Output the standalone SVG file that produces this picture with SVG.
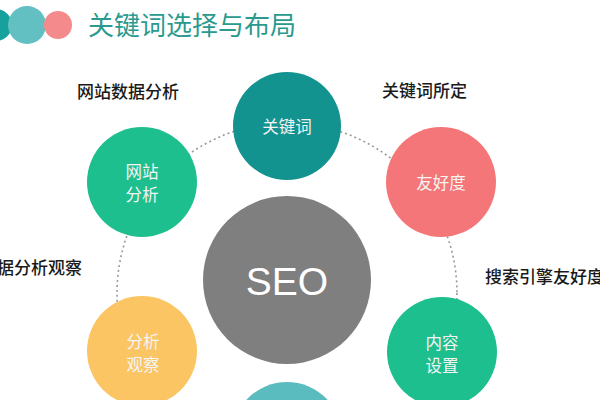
<svg xmlns="http://www.w3.org/2000/svg" width="600" height="400" viewBox="0 0 600 400">
<style>
.lbl{font-family:"Noto Sans CJK SC","Noto Sans",sans-serif;font-size:17px;fill:#1a1a1a;font-weight:500}
.nt{font-family:"Noto Sans CJK SC","Noto Sans",sans-serif;font-size:16.5px;fill:#f4f4f4;text-anchor:middle}
.title{font-family:"Noto Sans CJK SC","Noto Sans",sans-serif;font-size:26px;fill:#2b9a8e}
.conn{fill:none;stroke:#9a9a9a;stroke-width:1.6;stroke-dasharray:2 3}
</style>
<rect width="600" height="400" fill="#ffffff"/>
<g id="title">
<circle cx="-4" cy="25" r="16" fill="#17a19d"/>
<circle cx="27" cy="25" r="19" fill="#62c0c2"/>
<circle cx="58" cy="25" r="14" fill="#f48a8c"/>
<text class="title" x="88" y="35">关键词选择与布局</text>
</g>
<g id="connectors">
<circle class="conn" cx="287" cy="293" r="170"/>
</g>
<g id="labels">
<text class="lbl" x="77" y="98">网站数据分析</text>
<text class="lbl" x="382" y="97">关键词所定</text>
<text class="lbl" x="-3" y="274">据分析观察</text>
<text class="lbl" x="485" y="283">搜索引擎友好度</text>
</g>
<g id="node-keyword">
<circle cx="287" cy="126" r="54" fill="#13938f"/>
<text class="nt" x="287" y="133">关键词</text>
</g>
<g id="node-site">
<circle cx="142" cy="182" r="55" fill="#1dbf8e"/>
<text class="nt" x="142" y="178">网站</text>
<text class="nt" x="142" y="201">分析</text>
</g>
<g id="node-friendly">
<circle cx="441" cy="182" r="55" fill="#f47678"/>
<text class="nt" x="441" y="189">友好度</text>
</g>
<g id="node-observe">
<circle cx="142" cy="351" r="55" fill="#fbc563"/>
<text class="nt" x="143" y="348">分析</text>
<text class="nt" x="143" y="371">观察</text>
</g>
<g id="node-content">
<circle cx="442" cy="352" r="55" fill="#1dbf8e"/>
<text class="nt" x="442" y="349">内容</text>
<text class="nt" x="442" y="372">设置</text>
</g>
<g id="node-seo">
<circle cx="287" cy="280" r="84" fill="#7f7f7f"/>
<text x="287" y="295" font-family="Liberation Sans, Arial, sans-serif" font-size="39" fill="#ffffff" text-anchor="middle">SEO</text>
</g>
<g id="node-bottom">
<circle cx="287" cy="437" r="55" fill="#5bbcbf"/>
</g>
</svg>
